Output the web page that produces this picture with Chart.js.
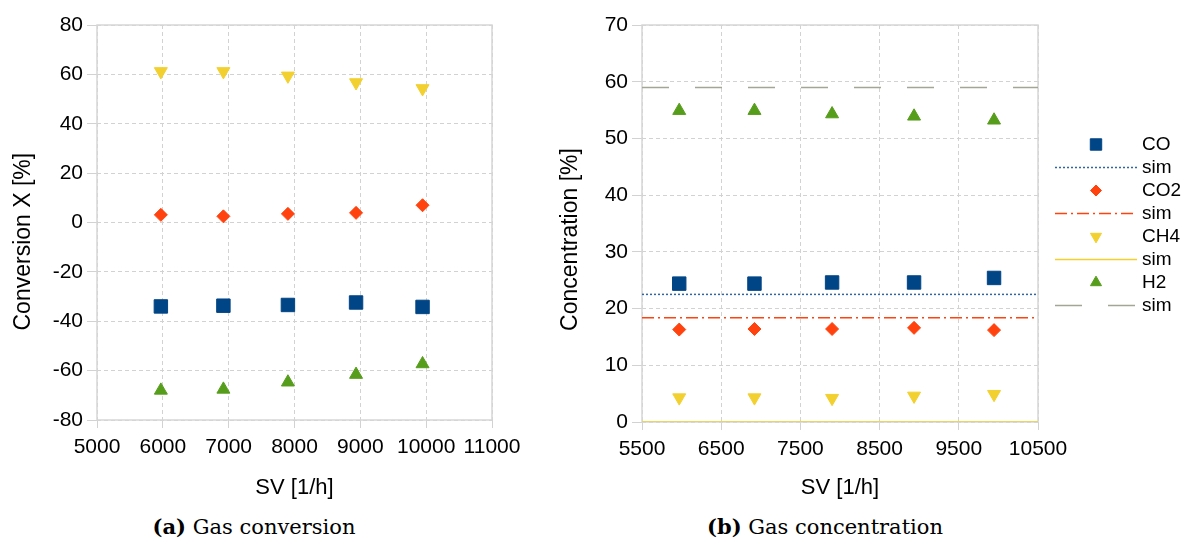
<!DOCTYPE html>
<html>
<head>
<meta charset="utf-8">
<script src="https://cdn.jsdelivr.net/npm/chart.js@4.4.1/dist/chart.umd.min.js"></script>
<style>
  body { margin: 0; background: #fff; }
  #wrap { position: relative; width: 1181px; height: 542px; }
  .panel { position: absolute; top: 0; }
  .caption { position: absolute; top: 514px; width: 400px; font-family: "DejaVu Serif", serif; font-size: 21px; line-height: 26px; color: #000; text-align: center; white-space: nowrap; }
</style>
</head>
<body>
<div id="wrap">
  <canvas id="convChart" class="panel" style="left:0" width="540" height="510"></canvas>
  <canvas id="concChart" class="panel" style="left:540px" width="641" height="510"></canvas>
  <div class="caption" style="left:54px"><b>(a)</b> Gas conversion</div>
  <div class="caption" style="left:625px"><b>(b)</b> Gas concentration</div>
</div>
<script>
// space velocity of the measured runs
const svPoints = [5970, 6920, 7900, 8935, 9945];

// conversion X [%]
const convCO  = [-34.0, -33.7, -33.4, -32.4, -34.2];
const convCO2 = [3.1, 2.5, 3.5, 3.9, 7.0];
const convCH4 = [61.2, 61.2, 59.4, 56.7, 54.3];
const convH2  = [-68.0, -67.6, -64.7, -61.6, -57.3];

// outlet concentration [%]
const concCO  = [24.4, 24.4, 24.6, 24.6, 25.4];
const concCO2 = [16.3, 16.4, 16.4, 16.6, 16.2];
const concCH4 = [4.3, 4.3, 4.2, 4.6, 4.9];
const concH2  = [54.9, 54.9, 54.3, 53.9, 53.2];

// simulated equilibrium concentration, flat over the SV range
const simRange = [5500, 10500];
const simConc = [22.5, 18.4, 0, 59.0];

const gases = ['CO', 'CO2', 'CH4', 'H2'];

// axis ticks
const convXTicks = [5000, 6000, 7000, 8000, 9000, 10000, 11000];
const convYTicks = [-80, -60, -40, -20, 0, 20, 40, 60, 80];
const concXTicks = [5500, 6500, 7500, 8500, 9500, 10500];
const concYTicks = [0, 10, 20, 30, 40, 50, 60, 70];

// styling (LibreOffice default palette)
const gasColors = ['#004586', '#ff420e', '#f2d030', '#579d1c'];
const markerStyles = ['rect', 'rectRot', 'triangle', 'triangle'];
const markerRotation = [0, 0, 180, 0];
const markerRadius = [9.5, 6.5, 7.5, 7.5];
const simColors = ['#2f66a0', '#ff420e', '#f2d030', '#a3a595'];
const simDashes = [[2, 2], [12, 4, 2, 4], [], [27, 26]];

const FONT = '"Liberation Sans", Arial, sans-serif';

const pts = (xs, ys) => xs.map((x, i) => ({ x, y: ys[i] }));

function markerSet(i, values) {
  return {
    label: gases[i],
    data: pts(svPoints, values),
    showLine: false,
    pointStyle: markerStyles[i],
    pointRotation: markerRotation[i],
    pointRadius: markerRadius[i],
    backgroundColor: gasColors[i],
    borderColor: gasColors[i],
    pointBorderWidth: 1,
    order: 0
  };
}

function simSet(i) {
  return {
    label: 'sim',
    data: pts(simRange, simRange.map(() => simConc[i])),
    showLine: true,
    pointRadius: 0,
    borderColor: simColors[i],
    borderWidth: 1.5,
    borderDash: simDashes[i],
    order: 1
  };
}

function makeScale(tickValues, titleText, isX, size, titleSize, titlePad) {
  return {
    type: 'linear',
    min: tickValues[0],
    max: tickValues[tickValues.length - 1],
    afterBuildTicks: s => { s.ticks = tickValues.map(v => ({ value: v })); },
    afterFit: s => { if (isX) s.height = size; else s.width = size; },
    ticks: {
      color: '#000',
      font: { family: FONT, size: 21 },
      padding: isX ? 7 : 4,
      autoSkip: false,
      maxRotation: 0,
      callback: v => String(v)
    },
    grid: { color: '#d2d2d2', lineWidth: 1, tickLength: isX ? 8 : 10, tickColor: '#d2d2d2' },
    border: { display: false, dash: [4, 3] },
    title: {
      display: true,
      text: titleText,
      color: '#000',
      font: { family: FONT, size: titleSize },
      padding: isX ? { top: 0, bottom: titlePad } : { top: titlePad, bottom: 0 }
    }
  };
}

// light solid frame round the plot area
const plotFrame = {
  id: 'plotFrame',
  beforeDatasetsDraw(chart) {
    const { ctx, chartArea: a } = chart;
    ctx.save();
    ctx.strokeStyle = '#d6d6d6';
    ctx.lineWidth = 1.5;
    ctx.strokeRect(a.left, a.top, a.right - a.left, a.bottom - a.top);
    ctx.restore();
  }
};

// legend column to the right of the plot: marker or line sample, then label
const sideLegend = {
  id: 'sideLegend',
  afterDraw(chart) {
    const { ctx, chartArea: a } = chart;
    const items = chart.data.datasets;
    const step = 23;
    let y = (a.top + a.bottom) / 2 - step * (items.length - 1) / 2 + 1.5;
    const x0 = a.right + 17, x1 = a.right + 99, xm = (x0 + x1) / 2, xt = a.right + 104;
    ctx.save();
    ctx.font = '19px ' + FONT;
    ctx.textBaseline = 'middle';
    items.forEach(ds => {
      ctx.save();
      if (ds.showLine) {
        ctx.strokeStyle = ds.borderColor;
        ctx.lineWidth = ds.borderWidth;
        ctx.setLineDash(ds.borderDash || []);
        ctx.beginPath();
        ctx.moveTo(x0, y);
        ctx.lineTo(x1, y);
        ctx.stroke();
      } else {
        ctx.fillStyle = ds.backgroundColor;
        ctx.strokeStyle = ds.borderColor;
        ctx.lineWidth = 1;
        Chart.helpers.drawPoint(ctx, {
          pointStyle: ds.pointStyle,
          rotation: ds.pointRotation,
          radius: ds.pointRadius * 0.85,
          borderWidth: 1
        }, xm, y);
      }
      ctx.restore();
      ctx.fillStyle = '#000';
      ctx.fillText(ds.label, xt, y);
      y += step;
    });
    ctx.restore();
  }
};

const baseOptions = (padRight, scales) => ({
  responsive: false,
  animation: false,
  events: [],
  layout: { padding: { top: 25, right: padRight, bottom: 0, left: 0 } },
  plugins: { legend: { display: false }, tooltip: { enabled: false } },
  scales
});

new Chart(document.getElementById('convChart'), {
  type: 'scatter',
  data: {
    datasets: [
      markerSet(0, convCO),
      markerSet(1, convCO2),
      markerSet(2, convCH4),
      markerSet(3, convH2)
    ]
  },
  options: baseOptions(48, {
    x: makeScale(convXTicks, 'SV [1/h]', true, 90, 22, 9),
    y: makeScale(convYTicks, 'Conversion X [%]      ', false, 97, 23, 9.5)
  }),
  plugins: [plotFrame]
});

new Chart(document.getElementById('concChart'), {
  type: 'scatter',
  data: {
    datasets: [
      markerSet(0, concCO), simSet(0),
      markerSet(1, concCO2), simSet(1),
      markerSet(2, concCH4), simSet(2),
      markerSet(3, concH2), simSet(3)
    ]
  },
  options: baseOptions(143, {
    x: makeScale(concXTicks, 'SV [1/h]', true, 88, 22, 9),
    y: makeScale(concYTicks, 'Concentration [%]     ', false, 102, 23, 17)
  }),
  plugins: [plotFrame, sideLegend]
});
</script>
</body>
</html>
